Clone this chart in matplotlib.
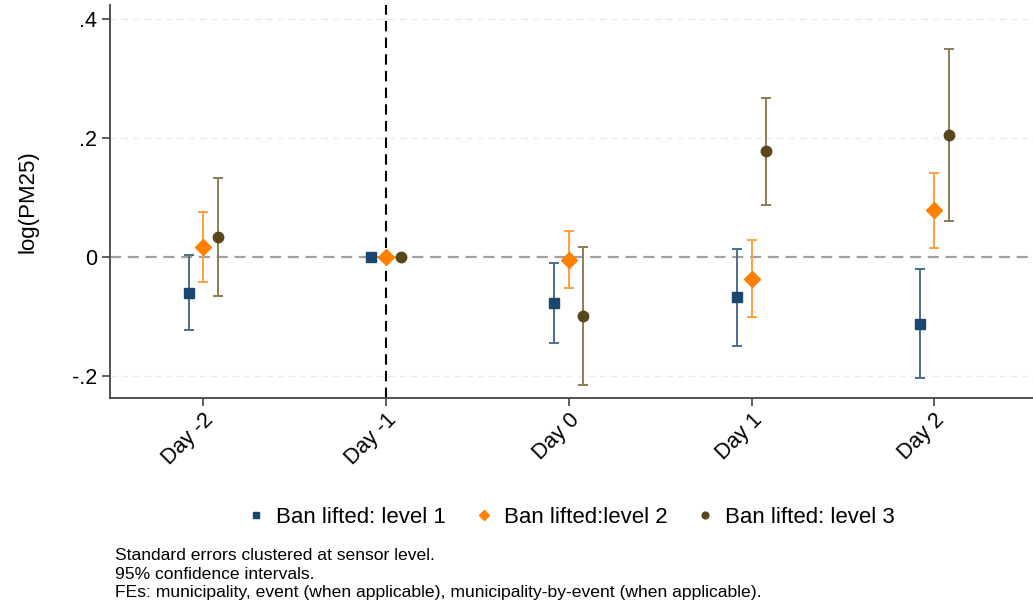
#!/usr/bin/env python3
"""Event-study coefficient plot: log(PM25) around ban lifting."""

import matplotlib
matplotlib.use('Agg')
import matplotlib.pyplot as plt
import numpy as np

plt.rcParams['font.family'] = ['Liberation Sans', 'DejaVu Sans']

# Data
days = ['Day -2', 'Day -1', 'Day 0', 'Day 1', 'Day 2']
series_names = ['Ban lifted: level 1', 'Ban lifted:level 2', 'Ban lifted: level 3']

coef_l1 = [-0.060, 0.0, -0.078, -0.067, -0.112]
lo_l1 = [-0.123, 0.0, -0.145, -0.149, -0.204]
hi_l1 = [0.003, 0.0, -0.011, 0.014, -0.020]

coef_l2 = [0.017, 0.0, -0.005, -0.037, 0.078]
lo_l2 = [-0.042, 0.0, -0.053, -0.101, 0.015]
hi_l2 = [0.076, 0.0, 0.044, 0.028, 0.141]

coef_l3 = [0.034, 0.0, -0.099, 0.178, 0.205]
lo_l3 = [-0.066, 0.0, -0.215, 0.087, 0.060]
hi_l3 = [0.133, 0.0, 0.017, 0.267, 0.349]

notes = ['Standard errors clustered at sensor level.',
         '95% confidence intervals.',
         'FEs: municipality, event (when applicable), municipality-by-event (when applicable).']

# styles
marker_colors = ['#1a476f', '#ff8000', '#58471b']
bar_colors = ['#4a6f92', '#ffa040', '#8e7c55']
markers = ['s', 'D', 'o']
msizes = [7, 8, 7.5]
offsets = [-0.08, 0.0, 0.08]

fig = plt.figure(figsize=(10.33, 6.07), dpi=100)
ax = fig.add_axes([0.1065, 0.3443, 0.8935, 0.648])

x = np.arange(len(days))
ax.axhline(0, color='#a0a0a0', linestyle=(0, (5, 3)), linewidth=1.6, zorder=1)
for g in [-0.2, 0.2, 0.4]:
    ax.axhline(g, color='#ececec', linestyle=(0, (5, 3)), linewidth=1.0, zorder=0)
ax.axvline(1, color='black', linestyle=(0, (5, 3)), linewidth=1.5, zorder=1)

series = [(coef_l1, lo_l1, hi_l1), (coef_l2, lo_l2, hi_l2), (coef_l3, lo_l3, hi_l3)]
handles = []
for i, (c, lo, hi) in enumerate(series):
    c = np.array(c)
    err = np.vstack([c - np.array(lo), np.array(hi) - c])
    xs = x + offsets[i]
    ax.errorbar(xs, c, yerr=err, fmt='none', ecolor=bar_colors[i],
                elinewidth=1.4, capsize=3.5, capthick=1.4, zorder=2)
    h = ax.plot(xs, c, linestyle='none', marker=markers[i], markersize=msizes[i],
                color=marker_colors[i], markeredgecolor=marker_colors[i],
                zorder=3, label=series_names[i])[0]
    handles.append(h)

ax.set_xlim(-0.51, 4.54)
ax.set_ylim(-0.237, 0.4235)
ax.set_yticks([-0.2, 0, 0.2, 0.4])
ax.set_yticklabels(['-.2', '0', '.2', '.4'], fontsize=15.5)
ax.set_xticks(x)
ax.set_xticklabels(days, rotation=45, ha='right', rotation_mode='anchor', fontsize=15.5)
ax.set_ylabel('log(PM25)', fontsize=16, labelpad=24)

for s in ['top', 'right']:
    ax.spines[s].set_visible(False)
for s in ['left', 'bottom']:
    ax.spines[s].set_color('#444444')
    ax.spines[s].set_linewidth(1.3)
ax.tick_params(axis='both', direction='out', length=6, width=1.2, color='#444444')
ax.tick_params(axis='x', pad=2)

leg = fig.legend(handles=handles, loc='center', bbox_to_anchor=(0.552, 0.148),
                 ncol=3, frameon=False, fontsize=16, markerscale=0.65,
                 handletextpad=0.4, columnspacing=1.2, handlelength=1.0)

for k, line in enumerate(notes):
    fig.text(115 / 1033, 1 - (556 + k * 18.5) / 607, line, fontsize=12.6,
             va='center', ha='left')

fig.savefig('out.png', dpi=100)
